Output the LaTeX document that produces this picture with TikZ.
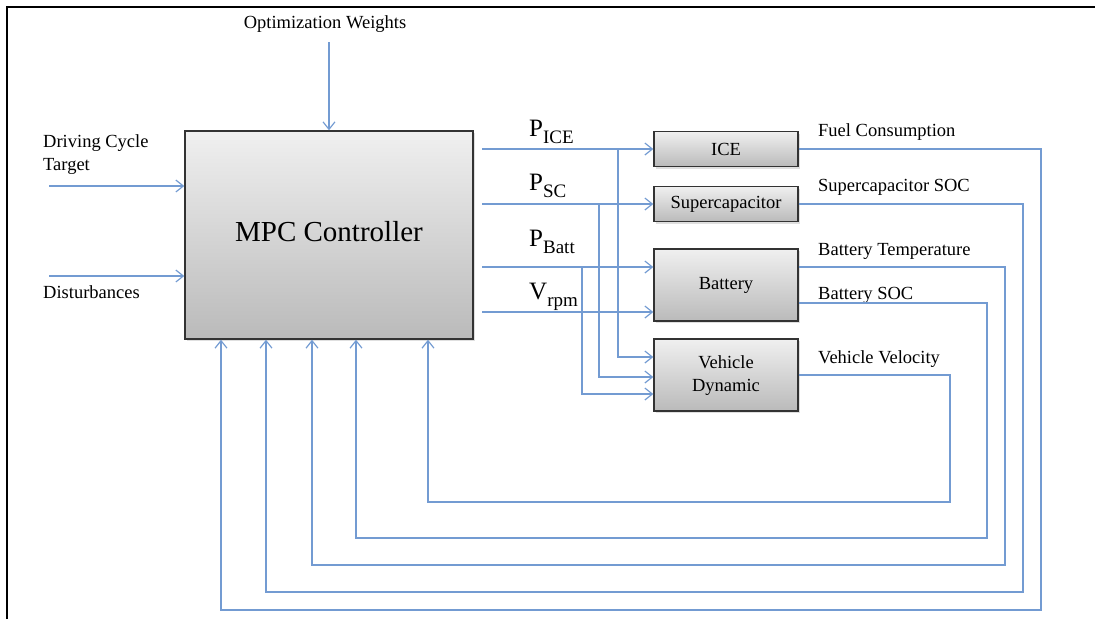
\documentclass[tikz,border=0pt]{standalone}
\usepackage{fontspec}
\setmainfont{LiberationSerif}[Extension=.ttf,UprightFont=*-Regular,BoldFont=*-Bold]
\usetikzlibrary{arrows.meta,shadows,calc}
\definecolor{wirecol}{RGB}{115,155,210}
\tikzset{
 wire/.style={draw=wirecol,line width=1.3pt},
 arr/.style={wire,-{Straight Barb[length=7.5pt,width=12pt,line width=1.2pt]}},
 blk/.style={draw=black!80,line width=1.4pt,top color=black!6,bottom color=black!27,
   drop shadow={shadow xshift=2pt,shadow yshift=-2pt,opacity=0.25},inner sep=0pt,
   font=\fontsize{18.5}{23}\selectfont,align=center},
 lbl/.style={inner sep=0pt,anchor=base west,font=\fontsize{18.5}{23}\selectfont,align=left},
 plbl/.style={inner sep=0pt,anchor=base west,font=\fontsize{25}{25}\selectfont},
}
\newcommand{\subx}[1]{\raisebox{-7pt}{\fontsize{19}{19}\selectfont #1}}
\newcommand{\twoline}[2]{\begin{tabular}{@{}c@{}}#1\\#2\end{tabular}}
\begin{document}
\begin{tikzpicture}[x=1pt,y=-1pt]
\useasboundingbox (0,0) rectangle (1095,619);
\draw[line width=2.5pt] (7,619) -- (7,7) -- (1095,7);

% blocks
\node[blk,minimum width=288pt,minimum height=208pt] (mpc) at (329,235)
  {\raisebox{8pt}{\fontsize{29}{29}\selectfont MPC Controller}};
\node[blk,minimum width=144pt,minimum height=35pt] (ice) at (726,149) {ICE};
\node[blk,minimum width=144pt,minimum height=35pt] (sc) at (726,204) {\raisebox{-2pt}{Supercapacitor}};
\node[blk,minimum width=144pt,minimum height=72pt] (bat) at (726,285) {\raisebox{-2pt}{Battery}};
\node[blk,minimum width=144pt,minimum height=72pt] (veh) at (726,375) {\raisebox{-4pt}{\twoline{Vehicle}{Dynamic}}};

% input labels
\node[lbl,anchor=base] (ow) at (325,28) {Optimization Weights};
\node[lbl] (dct) at (43,170) {Driving Cycle\\Target};
\node[lbl] (dist) at (43,298) {Disturbances};

% output labels
\node[lbl] (fc) at (818,136) {Fuel Consumption};
\node[lbl] (scsoc) at (818,191) {Supercapacitor SOC};
\node[lbl] (btemp) at (818,255) {Battery Temperature};
\node[lbl] (bsoc) at (818,299) {Battery SOC};
\node[lbl] (vv) at (818,363) {Vehicle Velocity};

% signal labels
\node[plbl] (pice) at (529,136) {P\subx{ICE}};
\node[plbl] (psc) at (529,190) {P\subx{SC}};
\node[plbl] (pbatt) at (529,246) {P\subx{Batt}};
\node[plbl] (vrpm) at (529,299) {V\subx{rpm}};

% coordinates
\coordinate (xs) at (482,0);
\coordinate (owtop) at (329,42);
\coordinate (dcs) at (49,186);
\coordinate (dss) at (49,276);
\coordinate (b1) at (618,0);
\coordinate (b2) at (599,0);
\coordinate (b3) at (582,0);
\coordinate (yb) at (0,267);
\coordinate (yv) at (0,312);

% inputs
\draw[arr] (owtop) -- (owtop |- mpc.north);
\draw[arr] (dcs) -- (dcs -| mpc.west);
\draw[arr] (dss) -- (dss -| mpc.west);

% controller outputs
\draw[arr] (ice.west -| xs) -- (ice.west);
\draw[arr] (sc.west -| xs) -- (sc.west);
\draw[arr] (yb -| xs) -- (yb -| bat.west);
\draw[arr] (yv -| xs) -- (yv -| bat.west);
\draw[arr] (ice.west -| b1) -- (b1 |- 0,357) -- (veh.west |- 0,357);
\draw[arr] (sc.west -| b2) -- (b2 |- 0,377) -- (veh.west |- 0,377);
\draw[arr] (yb -| b3) -- (b3 |- 0,394) -- (veh.west |- 0,394);

% feedback
\draw[arr] (ice.east) -- (1041,149) -- (1041,610) -- (221,610) -- (221,0 |- mpc.south);
\draw[arr] (sc.east) -- (1023,204) -- (1023,592) -- (266,592) -- (266,0 |- mpc.south);
\draw[arr] (yb -| bat.east) -- (1005,267) -- (1005,565) -- (312,565) -- (312,0 |- mpc.south);
\draw[arr] (0,303 -| bat.east) -- (987,303) -- (987,538) -- (356,538) -- (356,0 |- mpc.south);
\draw[arr] (veh.east) -- (950,375) -- (950,502) -- (428,502) -- (428,0 |- mpc.south);
\end{tikzpicture}
\end{document}
